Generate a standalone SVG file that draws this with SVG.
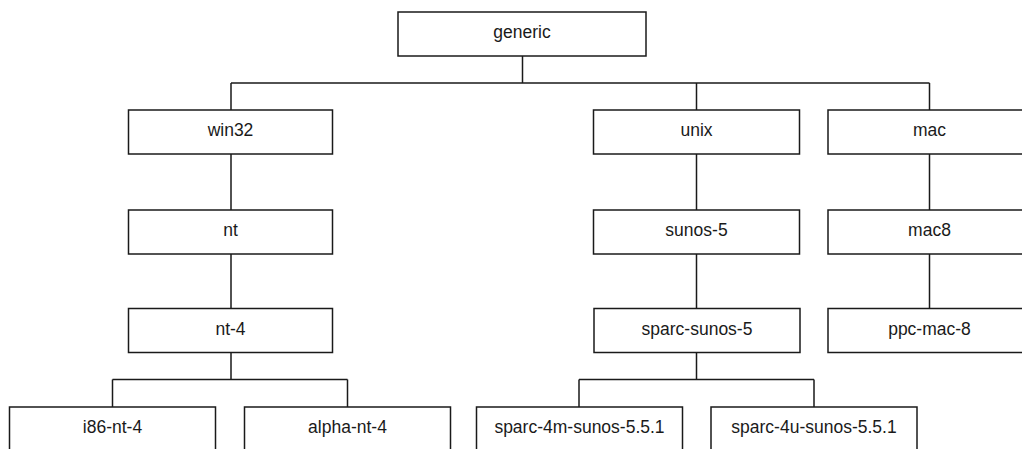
<svg xmlns="http://www.w3.org/2000/svg" width="1022" height="449" viewBox="0 0 1022 449">
<style>
.box{fill:#fff;stroke:#1a1a1a;stroke-width:1.5}
.lbl{font-family:"Liberation Sans",Arial,sans-serif;font-size:17.5px;fill:#1a1a1a;text-anchor:middle}
.conn{fill:none;stroke:#1a1a1a;stroke-width:1.5}
</style>
<rect width="1022" height="449" fill="#fff"/>
<g id="connectors" class="conn">
<path d="M522.5 56V83M231 83H929.5M231 83V110M696.5 83V110M929.5 83V110"/>
<path d="M231 154V210M231 254V308.5M231 352.5V379.5M112.5 379.5H347.5M112.5 379.5V407M347.5 379.5V407"/>
<path d="M696.5 154V210M696.5 254V308.5M696.5 352.5V379.5M579 379.5H814M579 379.5V407M814 379.5V407"/>
<path d="M929.5 154V210M929.5 254V308.5"/>
</g>
<g id="generic"><rect class="box" x="398" y="12" width="248" height="44"/><text class="lbl" x="522" y="38">generic</text></g>
<g id="win32"><rect class="box" x="128.5" y="110" width="204" height="44"/><text class="lbl" x="230.5" y="136">win32</text></g>
<g id="nt"><rect class="box" x="128.5" y="210" width="204" height="44"/><text class="lbl" x="230.5" y="236">nt</text></g>
<g id="nt-4"><rect class="box" x="128.5" y="308.5" width="204" height="44"/><text class="lbl" x="230.5" y="334.5">nt-4</text></g>
<g id="i86-nt-4"><rect class="box" x="9.5" y="407" width="206" height="60"/><text class="lbl" x="112.5" y="433">i86-nt-4</text></g>
<g id="alpha-nt-4"><rect class="box" x="244.5" y="407" width="206" height="60"/><text class="lbl" x="347.5" y="433">alpha-nt-4</text></g>
<g id="unix"><rect class="box" x="593.5" y="110" width="206" height="44"/><text class="lbl" x="696.5" y="136">unix</text></g>
<g id="sunos-5"><rect class="box" x="593.5" y="210" width="206" height="44"/><text class="lbl" x="696.5" y="236">sunos-5</text></g>
<g id="sparc-sunos-5"><rect class="box" x="594" y="308.5" width="206" height="44"/><text class="lbl" x="697" y="334.5">sparc-sunos-5</text></g>
<g id="sparc-4m-sunos-5.5.1"><rect class="box" x="476.5" y="407" width="206" height="60"/><text class="lbl" x="579.5" y="433">sparc-4m-sunos-5.5.1</text></g>
<g id="sparc-4u-sunos-5.5.1"><rect class="box" x="711" y="407" width="206" height="60"/><text class="lbl" x="814" y="433">sparc-4u-sunos-5.5.1</text></g>
<g id="mac"><rect class="box" x="828" y="110" width="206" height="44"/><text class="lbl" x="929.5" y="136">mac</text></g>
<g id="mac8"><rect class="box" x="828" y="210" width="206" height="44"/><text class="lbl" x="929.5" y="236">mac8</text></g>
<g id="ppc-mac-8"><rect class="box" x="828" y="308.5" width="206" height="44"/><text class="lbl" x="929.5" y="334.5">ppc-mac-8</text></g>
</svg>
